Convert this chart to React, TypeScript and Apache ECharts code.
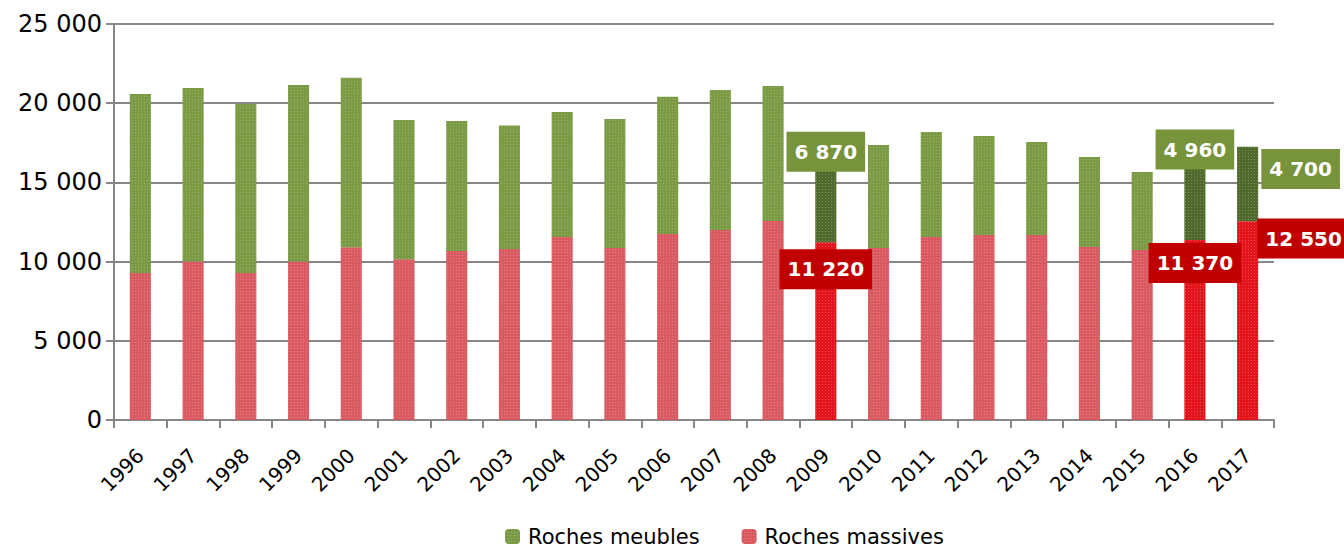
import React, { useEffect, useRef } from "react";
import * as echarts from "echarts";

const years = ["1996","1997","1998","1999","2000","2001","2002","2003","2004","2005","2006","2007","2008","2009","2010","2011","2012","2013","2014","2015","2016","2017"];
const massives = [9280,10000,9280,10000,10900,10150,10670,10800,11550,10860,11740,12000,12560,11220,10860,11550,11680,11680,10920,10730,11370,12550];
const meubles = [11300,10960,10670,11150,10700,8790,8210,7800,7890,8140,8660,8830,8520,6870,6500,6630,6250,5870,5680,4930,4960,4700];
const highlighted = ["2009","2016","2017"];
const yTicks = [0, 5000, 10000, 15000, 20000, 25000];

const FONT = "DejaVu Sans";
const GREEN = "#7A9A43";
const GREEN_DARK = "#4F6A2C";
const RED = "#D95A60";
const RED_BRIGHT = "#E3141B";
const LBL_GREEN = "#77933C";
const LBL_RED = "#C00000";

const fmt = (v: number) => String(v).replace(/\B(?=(\d{3})+(?!\d))/g, " ");

const decal = {
  symbol: "rect",
  symbolSize: 1,
  color: "rgba(255,255,255,0.22)",
  dashArrayX: [1, 2],
  dashArrayY: [1, 2],
};

// label offsets (style) for highlighted values
const meubleOffsets: Record<string, number[]> = { "2009": [0, -36], "2016": [0, -51], "2017": [53, -15] };
const massiveOffsets: Record<string, number[]> = { "2009": [0, -62], "2016": [0, -67], "2017": [56, -82] };

function labelStyle(bg: string, offset: number[]) {
  return {
    show: true,
    position: "inside",
    offset,
    formatter: (p: any) => fmt(p.value),
    color: "#fff",
    fontFamily: FONT,
    fontWeight: "bold",
    fontSize: 20,
    lineHeight: 24,
    backgroundColor: bg,
    padding: [8, 8, 8, 8],
  };
}

export default function App() {
  const ref = useRef<HTMLDivElement>(null);
  useEffect(() => {
    const chart = echarts.init(ref.current!, null, { renderer: "svg" });
    const massData = massives.map((v, i) => {
      const y = years[i];
      if (highlighted.includes(y)) {
        return { value: v, itemStyle: { color: RED_BRIGHT, decal }, label: labelStyle(LBL_RED, massiveOffsets[y]) };
      }
      return v;
    });
    const meubData = meubles.map((v, i) => {
      const y = years[i];
      if (highlighted.includes(y)) {
        return { value: v, itemStyle: { color: GREEN_DARK, decal }, label: labelStyle(LBL_GREEN, meubleOffsets[y]) };
      }
      return v;
    });
    chart.setOption({
      animation: false,
      textStyle: { fontFamily: FONT },
      grid: { left: 114, right: 70, top: 24, bottom: 131, containLabel: false },
      legend: {
        top: 521,
        left: 500,
        itemWidth: 15,
        itemHeight: 15,
        itemGap: 42,
        textStyle: { fontFamily: FONT, fontSize: 21, color: "#000", padding: [0, 0, 0, 3] },
        data: ["Roches meubles", "Roches massives"],
      },
      xAxis: {
        type: "category",
        data: years,
        axisLine: { lineStyle: { color: "#868686", width: 2 } },
        axisTick: { show: true, length: 8, lineStyle: { color: "#868686", width: 2 } },
        axisLabel: { rotate: 45, fontSize: 20, color: "#000", fontFamily: FONT, margin: 32 },
      },
      yAxis: {
        type: "value",
        min: 0,
        max: 25000,
        interval: 5000,
        axisLine: { show: true, lineStyle: { color: "#868686", width: 2 } },
        axisTick: { show: true, length: 8, lineStyle: { color: "#868686", width: 2 } },
        splitLine: { lineStyle: { color: "#868686", width: 2 } },
        axisLabel: {
          fontSize: 24, color: "#000", fontFamily: FONT, margin: 12,
          formatter: (v: number) => (yTicks.includes(v) ? fmt(v) : ""),
        },
      },
      series: [
        {
          name: "Roches massives",
          type: "bar",
          stack: "t",
          barWidth: "40%",
          itemStyle: { color: RED, decal },
          data: massData,
          z: 3,
        },
        {
          name: "Roches meubles",
          type: "bar",
          stack: "t",
          barWidth: "40%",
          itemStyle: { color: GREEN, decal },
          data: meubData,
          z: 3,
        },
      ],
    });
    return () => chart.dispose();
  }, []);
  return <div ref={ref} style={{ width: 1344, height: 551, position: "absolute", left: 0, top: 0 }} />;
}
